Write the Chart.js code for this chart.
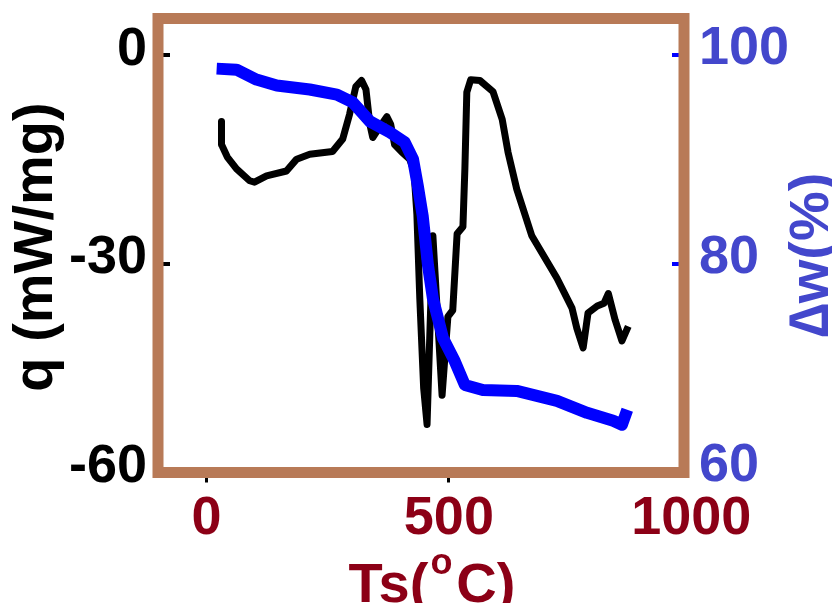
<!DOCTYPE html>
<html>
<head>
<meta charset="utf-8">
<script src="https://cdn.jsdelivr.net/npm/chart.js@4.4.1/dist/chart.umd.min.js"></script>
<style>
  html, body { margin: 0; padding: 0; background: #fff; }
  #wrap { width: 832px; height: 603px; position: relative; }
</style>
</head>
<body>
<div id="wrap"><canvas id="tga"></canvas></div>
<script>
// DSC heat flow (black, left axis)
const tempQ = [31, 31, 43, 62, 89, 99, 124, 165, 186, 213,
    260, 281, 295, 308, 320, 329, 337, 343, 357, 372,
    380, 388, 403, 419, 428, 434, 440, 448, 455, 467,
    486, 498, 508, 517, 529, 533, 537, 545, 564, 591,
    610, 622, 640, 671, 723, 754, 764, 777, 787, 806,
    820, 829, 843, 857, 870];
const heatFlow = [-9.6, -12.9, -14.7, -16.4, -18.1, -18.3, -17.4, -16.7, -15, -14.3,
    -13.9, -12.1, -8.6, -4.6, -3.7, -5, -10, -11.9, -10.4, -8.9,
    -10, -12.9, -14, -15, -16.7, -22.9, -35, -47.9, -53.1, -26,
    -48.9, -37.6, -36.7, -25.7, -24.7, -16.4, -5.4, -3.6, -3.7, -5.3,
    -9.3, -14, -19.3, -26, -32.1, -36.4, -39.3, -42.1, -37.1, -36.1,
    -35.7, -34.3, -38.1, -41.1, -39];

// TGA mass (blue, right axis)
const tempW = [21, 62, 103, 145, 213, 269, 302, 337, 378, 409,
    426, 436, 446, 457, 467, 488, 512, 533, 570, 640,
    723, 785, 839, 857, 868];
const massPct = [98.67, 98.57, 97.62, 97.05, 96.67, 96.19, 95.43, 93.62, 92.57, 91.62,
    90, 87.43, 84.57, 79.81, 76.67, 72.86, 70.67, 68.38, 67.9, 67.81,
    66.86, 65.71, 64.95, 64.57, 66.0];

const xTicks = [0, 500, 1000];
const qTicks = [-60, -30, 0];
const wTicks = [60, 80, 100];

const FONT = '"Liberation Sans", Arial, sans-serif';
const BROWN = '#b87a57';
const DARKRED = '#8c0016';
const LABELBLUE = '#4347cc';

// no extra room for labels hanging past the axis ends
const noOverhang = (s) => {
    s.paddingTop = 0;
    s.paddingBottom = 0;
    s.paddingLeft = 0;
    s.paddingRight = 0;
};

const frameAndTitles = {
    id: 'frameAndTitles',
    afterDraw(chart) {
        const ctx = chart.ctx;
        const a = chart.chartArea;
        ctx.save();
        // brown box round the plot
        ctx.strokeStyle = BROWN;
        ctx.lineWidth = 11;
        ctx.strokeRect(a.left, a.top, a.right - a.left, a.bottom - a.top);

        // left title
        ctx.fillStyle = '#000';
        ctx.font = 'bold 56px ' + FONT;
        ctx.textAlign = 'center';
        ctx.textBaseline = 'alphabetic';
        ctx.save();
        ctx.translate(52, 247);
        ctx.rotate(-Math.PI / 2);
        ctx.fillText('q (mW/mg)', 0, 0);
        ctx.restore();

        // right title
        ctx.fillStyle = LABELBLUE;
        ctx.save();
        ctx.translate(828, 255);
        ctx.rotate(-Math.PI / 2);
        ctx.fillText('\u2206w(%)', 0, 0);
        ctx.restore();

        // x title with superscript o
        ctx.fillStyle = DARKRED;
        ctx.textAlign = 'left';
        const big = 'bold 56px ' + FONT;
        const small = 'bold 36px ' + FONT;
        ctx.font = big;
        const w1 = ctx.measureText('Ts(').width;
        const w3 = ctx.measureText('C)').width;
        ctx.font = small;
        const w2 = ctx.measureText('o').width + 6;
        let x = 432 - (w1 + w2 + w3) / 2;
        const base = 602;
        ctx.font = big;
        ctx.fillText('Ts(', x, base);
        x += w1 + 2;
        ctx.font = small;
        ctx.fillText('o', x, base - 28);
        x += w2 - 2;
        ctx.font = big;
        ctx.fillText('C)', x, base);
        ctx.restore();
    }
};

const ctx = document.getElementById('tga').getContext('2d');
new Chart(ctx, {
    type: 'line',
    data: {
        datasets: [{
            label: 'q',
            data: tempQ.map((t, i) => ({ x: t, y: heatFlow[i] })),
            borderColor: '#000000',
            borderWidth: 7,
            borderJoinStyle: 'round',
            pointRadius: 0,
            tension: 0,
            yAxisID: 'y',
            order: 2
        }, {
            label: 'w',
            data: tempW.map((t, i) => ({ x: t, y: massPct[i] })),
            borderColor: '#0000ff',
            borderWidth: 12,
            borderJoinStyle: 'round',
            pointRadius: 0,
            tension: 0,
            yAxisID: 'y1',
            order: 1
        }]
    },
    options: {
        responsive: true,
        maintainAspectRatio: false,
        animation: false,
        layout: { padding: { top: 18.5, left: 0, right: 0, bottom: 0 } },
        plugins: { legend: { display: false }, tooltip: { enabled: false } },
        scales: {
            x: {
                type: 'linear',
                min: -100,
                max: 985,
                afterBuildTicks: (s) => { s.ticks = xTicks.map(v => ({ value: v })); },
                afterFit: (s) => { s.height = 130.5; noOverhang(s); },
                border: { display: false },
                grid: {
                    drawOnChartArea: false,
                    tickLength: 10,
                    lineWidth: 3,
                    tickColor: (c) => (c.tick && c.tick.value > 985 ? 'rgba(0,0,0,0)' : '#000')
                },
                ticks: {
                    padding: 4,
                    maxRotation: 0,
                    color: DARKRED,
                    font: { family: FONT, size: 54, weight: 'bold' },
                    callback: (v) => String(v)
                }
            },
            y: {
                position: 'left',
                min: -60,
                max: 5.2,
                afterBuildTicks: (s) => { s.ticks = qTicks.map(v => ({ value: v })); },
                afterFit: (s) => { s.width = 158; noOverhang(s); },
                border: { display: false },
                grid: { drawOnChartArea: false, tickLength: -12, lineWidth: 4, tickColor: '#000' },
                ticks: {
                    padding: 23,
                    labelOffset: -5,
                    color: '#000',
                    font: { family: FONT, size: 54, weight: 'bold' },
                    callback: (v) => String(v)
                }
            },
            y1: {
                position: 'right',
                min: 60,
                max: 103.47,
                afterBuildTicks: (s) => { s.ticks = wTicks.map(v => ({ value: v })); },
                afterFit: (s) => { s.width = 148; noOverhang(s); },
                border: { display: false },
                grid: { drawOnChartArea: false, tickLength: -12, lineWidth: 4, tickColor: '#0000ff' },
                ticks: {
                    padding: 27,
                    labelOffset: -6,
                    color: LABELBLUE,
                    font: { family: FONT, size: 54, weight: 'bold' },
                    callback: (v) => String(v)
                }
            }
        }
    },
    plugins: [frameAndTitles]
});
</script>
</body>
</html>
